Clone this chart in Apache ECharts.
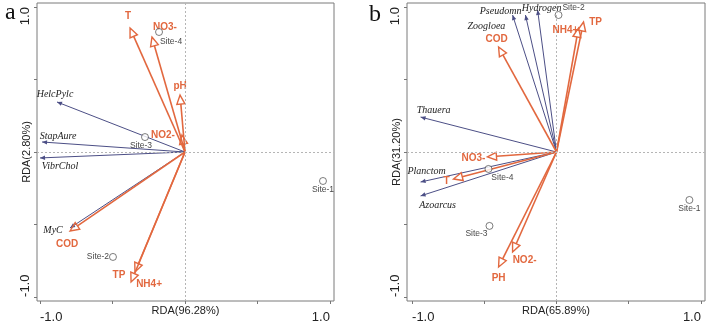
<!DOCTYPE html>
<html>
<head>
<meta charset="utf-8">
<script src="https://cdn.jsdelivr.net/npm/echarts@6/dist/echarts.min.js"></script>
<style>
  html, body { margin: 0; padding: 0; background: #fff; }
  #rdachart { width: 708px; height: 324px; }
</style>
</head>
<body>
<div id="rdachart"></div>
<script>
// ---- panel a ----
var aSpecies = ['HelcPylc', 'StapAure', 'VibrChol', 'MyC'];
var aSpeciesX = [-0.883, -0.986, -1.0, -0.793];
var aSpeciesY = [0.345, 0.069, -0.041, -0.524];
var aEnv = ['T', 'NO3-', 'pH', 'NO2-', 'COD', 'TP', 'NH4+'];
var aEnvX = [-0.379, -0.228, -0.034, -0.021, -0.793, -0.345, -0.372];
var aEnvY = [0.855, 0.793, 0.393, 0.117, -0.545, -0.828, -0.897];
var aSites = ['Site-1', 'Site-2', 'Site-3', 'Site-4'];
var aSiteX = [0.952, -0.497, -0.276, -0.179];
var aSiteY = [-0.2, -0.724, 0.103, 0.828];

// ---- panel b ----
var bSpecies = ['Pseudomn', 'Zoogloea', 'Hydrogen', 'Thauera', 'Planctom', 'Azoarcus'];
var bSpeciesX = [-0.304, -0.215, -0.131, -0.941, -0.941, -0.941];
var bSpeciesY = [0.945, 0.945, 0.98, 0.241, -0.207, -0.303];
var bEnv = ['COD', 'TP', 'NH4+', 'NO3-', 'T', 'NO2-', 'PH'];
var bEnvX = [-0.401, 0.187, 0.152, -0.478, -0.713, -0.304, -0.401];
var bEnvY = [0.724, 0.897, 0.855, -0.034, -0.186, -0.690, -0.793];
var bSites = ['Site-1', 'Site-2', 'Site-3', 'Site-4'];
var bSiteX = [0.92, 0.014, -0.464, -0.471];
var bSiteY = [-0.331, 0.945, -0.510, -0.117];

var axisTitles = ['RDA(96.28%)', 'RDA(2.80%)', 'RDA(65.89%)', 'RDA(31.20%)'];
var tickValues = [-1, -0.5, 0, 0.5, 1];
var tickLabelValues = [-1, 1];

// label placement next to arrow tips / points (px)
var shiftA = {
  'HelcPylc': [-2, -8], 'StapAure': [16, -6], 'VibrChol': [20, 8], 'MyC': [-17, 2],
  'T': [-2, -12], 'NO3-': [13, -10], 'pH': [0, -9], 'NO2-': [-19, 0],
  'COD': [-3, 13], 'TP': [-16, 3], 'NH4+': [18, 2],
  'Site-1': [0, 9], 'Site-2': [-15, 0], 'Site-3': [-4, 9], 'Site-4': [12, 10]
};
var shiftB = {
  'Pseudomn': [-12, -4], 'Zoogloea': [-39, 11], 'Hydrogen': [4, -2], 'Thauera': [13, -7],
  'Planctom': [6, -11], 'Azoarcus': [17, 9],
  'COD': [-2, -8], 'TP': [12, 0], 'NH4+': [-13, 2], 'NO3-': [-14, 1], 'T': [-7, 2],
  'NO2-': [12, 8], 'PH': [0, 11],
  'Site-1': [0, 9], 'Site-2': [15, -7], 'Site-3': [-13, 8], 'Site-4': [14, 9]
};

var envColor = '#e2683f';
var sppColor = '#4c4f86';

function vectorRender(kind, shift) {
  return function (params, api) {
    var o = api.coord([0, 0]);
    var p = api.coord([api.value(0), api.value(1)]);
    var name = api.value(2);
    var dx = p[0] - o[0], dy = p[1] - o[1];
    var len = Math.sqrt(dx * dx + dy * dy) || 1;
    var ux = dx / len, uy = dy / len;
    var env = kind === 'env';
    var hl = env ? 9 : 5;
    var hw = env ? 4 : 2.2;
    var bx = p[0] - ux * hl, by = p[1] - uy * hl;
    var color = env ? envColor : sppColor;
    var s = shift[name] || [0, 0];
    return {
      type: 'group',
      children: [
        {
          type: 'line',
          shape: { x1: o[0], y1: o[1], x2: env ? bx : p[0], y2: env ? by : p[1] },
          style: { stroke: color, lineWidth: env ? 1.6 : 1 }
        },
        {
          type: 'polygon',
          shape: { points: [[p[0], p[1]], [bx - uy * hw, by + ux * hw], [bx + uy * hw, by - ux * hw]] },
          style: env ? { fill: 'none', stroke: color, lineWidth: 1.4 } : { fill: color }
        },
        {
          type: 'text',
          x: p[0] + s[0],
          y: p[1] + s[1],
          style: {
            text: name,
            fill: env ? envColor : '#222',
            font: env ? 'bold 10px "Liberation Sans", Arial, sans-serif'
                      : 'italic 10px "Liberation Serif", "Times New Roman", serif',
            align: 'center',
            verticalAlign: 'middle'
          }
        }
      ]
    };
  };
}

function vecData(names, xs, ys) {
  return names.map(function (n, i) { return [xs[i], ys[i], n]; });
}

function siteData(names, xs, ys, shift) {
  return names.map(function (n, i) {
    return {
      value: [xs[i], ys[i]],
      name: n,
      label: { offset: shift[n] || [0, 0] }
    };
  });
}

function xAxisOpt(idx, min, max, name) {
  return {
    gridIndex: idx, type: 'value', min: min, max: max,
    name: name, nameLocation: 'middle', nameGap: 4, nameMoveOverlap: false,
    nameTextStyle: { fontFamily: '"Liberation Sans", Arial', fontSize: 11, color: '#222', verticalAlign: 'top' },
    axisLine: { show: false, onZero: false },
    axisTick: { show: true, length: 3, inside: false, customValues: tickValues, lineStyle: { color: '#777' } },
    splitLine: { show: false },
    axisLabel: {
      customValues: tickLabelValues, margin: 10, fontSize: 13, color: '#222',
      fontFamily: '"Liberation Sans", Arial',
      alignMinLabel: 'left', alignMaxLabel: 'right',
      formatter: function (v) { return v.toFixed(1); }
    }
  };
}

function yAxisOpt(idx, min, max, name) {
  return {
    gridIndex: idx, type: 'value', min: min, max: max,
    name: name, nameLocation: 'middle', nameGap: 5, nameMoveOverlap: false,
    nameTextStyle: { fontFamily: '"Liberation Sans", Arial', fontSize: 11, color: '#222' },
    axisLine: { show: false, onZero: false },
    axisTick: { show: true, length: 3, customValues: tickValues, lineStyle: { color: '#777' } },
    splitLine: { show: false },
    axisLabel: {
      customValues: tickLabelValues, margin: 5, rotate: 90, fontSize: 13, color: '#222',
      fontFamily: '"Liberation Sans", Arial',
      alignMinLabel: 'left', alignMaxLabel: 'right',
      formatter: function (v) { return v.toFixed(1); }
    }
  };
}

function zeroLines() {
  return {
    silent: true, symbol: 'none', label: { show: false },
    lineStyle: { color: '#b5b5b5', type: [2, 2], width: 1 },
    data: [{ xAxis: 0 }, { yAxis: 0 }]
  };
}

function siteSeries(idx, data) {
  return {
    type: 'scatter', xAxisIndex: idx, yAxisIndex: idx, data: data,
    symbol: 'circle', symbolSize: 7,
    itemStyle: { color: '#fff', borderColor: '#333', borderWidth: 0.8 },
    label: {
      show: true, position: 'inside', formatter: '{b}',
      fontSize: 8.5, color: '#111', fontFamily: '"Liberation Sans", Arial'
    },
    markLine: zeroLines()
  };
}

var myChart = echarts.init(document.getElementById('rdachart'), null, { renderer: 'canvas' });

var gridBase = {
  top: 3, height: 298, show: true, borderColor: '#7a7a7a', borderWidth: 1,
  backgroundColor: 'transparent', containLabel: false, outerBoundsMode: 'none'
};

var options = {
  backgroundColor: '#fff',
  animation: false,
  grid: [
    Object.assign({ left: 37, width: 297 }, gridBase),
    Object.assign({ left: 407, width: 298 }, gridBase)
  ],
  xAxis: [
    xAxisOpt(0, -1.021, 1.028, axisTitles[0]),
    xAxisOpt(1, -1.035, 1.028, axisTitles[2])
  ],
  yAxis: [
    yAxisOpt(0, -1.028, 1.028, axisTitles[1]),
    yAxisOpt(1, -1.028, 1.028, axisTitles[3])
  ],
  graphic: [
    { type: 'text', left: 5, top: 1, style: { text: 'a', font: '24px "Liberation Serif", serif', fill: '#111' } },
    { type: 'text', left: 369, top: 3, style: { text: 'b', font: '24px "Liberation Serif", serif', fill: '#111' } }
  ],
  series: [
    siteSeries(0, siteData(aSites, aSiteX, aSiteY, shiftA)),
    {
      type: 'custom', xAxisIndex: 0, yAxisIndex: 0,
      renderItem: vectorRender('spp', shiftA),
      data: vecData(aSpecies, aSpeciesX, aSpeciesY)
    },
    {
      type: 'custom', xAxisIndex: 0, yAxisIndex: 0,
      renderItem: vectorRender('env', shiftA),
      data: vecData(aEnv, aEnvX, aEnvY)
    },
    siteSeries(1, siteData(bSites, bSiteX, bSiteY, shiftB)),
    {
      type: 'custom', xAxisIndex: 1, yAxisIndex: 1,
      renderItem: vectorRender('spp', shiftB),
      data: vecData(bSpecies, bSpeciesX, bSpeciesY)
    },
    {
      type: 'custom', xAxisIndex: 1, yAxisIndex: 1,
      renderItem: vectorRender('env', shiftB),
      data: vecData(bEnv, bEnvX, bEnvY)
    }
  ]
};

myChart.setOption(options);
</script>
</body>
</html>
